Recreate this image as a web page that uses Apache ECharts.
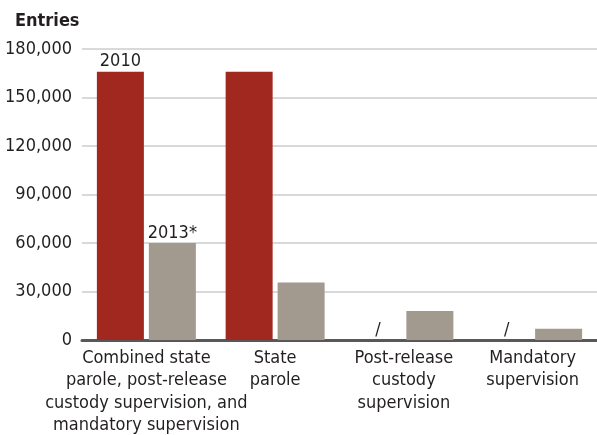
<!DOCTYPE html>
<html><head><meta charset="utf-8">
<script src="https://cdn.jsdelivr.net/npm/echarts@6/dist/echarts.min.js"></script>
<style>html,body{margin:0;padding:0;background:#fff}#c{width:597px;height:435px}</style>
</head><body><div id="c"></div>
<script>
const categories = ["Combined state\nparole, post-release\ncustody supervision, and\nmandatory supervision", "State\nparole", "Post-release\ncustody\nsupervision", "Mandatory\nsupervision"];
const values2010 = [166000, 166000, 0, 0];
const values2013 = [60000, 35500, 18000, 7000];
const labels2010 = ["2010", "", "/", "/"];
const labels2013 = ["2013*", "", "", ""];
const yTicks = { min: 0, max: 180000, interval: 30000 };

const FONT = '"DejaVu Sans Condensed","Liberation Sans Narrow",sans-serif';
const chart = echarts.init(document.getElementById('c'), null, {renderer: 'canvas'});
chart.setOption({
  animation: false,
  title: { text: 'Entries', left: 10, top: 7, textStyle: { fontFamily: FONT, fontSize: 18, fontWeight: 'bold', color: '#231f20' } },
  grid: { left: 82, right: 0, top: 49, bottom: 95, containLabel: false, outerBoundsMode: 'none' },
  xAxis: {
    type: 'category', data: categories,
    axisLine: { show: true, lineStyle: { color: '#58585a', width: 3 } },
    axisTick: { show: false },
    axisLabel: { interval: 0, margin: 7, fontFamily: FONT, fontSize: 18, lineHeight: 22.5, color: '#231f20', align: 'center' }
  },
  yAxis: {
    type: 'value', min: yTicks.min, max: yTicks.max, interval: yTicks.interval,
    axisLine: { show: false }, axisTick: { show: false },
    splitLine: { lineStyle: { color: '#d9d9d9', width: 2 } },
    axisLabel: { margin: 10, fontFamily: FONT, fontSize: 18, color: '#231f20',
      formatter: v => v.toLocaleString('en-US') }
  },
  series: [
    { name: '2010', type: 'bar', data: values2010, barWidth: 47, barGap: '10.6%', barCategoryGap: '23%',
      itemStyle: { color: '#a1281e' },
      label: { show: true, position: 'top', distance: 1, fontFamily: FONT, fontSize: 18, color: '#231f20',
        formatter: p => labels2010[p.dataIndex] } },
    { name: '2013*', type: 'bar', data: values2013, barWidth: 47,
      itemStyle: { color: '#a2998f' },
      label: { show: true, position: 'top', distance: 1, fontFamily: FONT, fontSize: 18, color: '#231f20',
        formatter: p => labels2013[p.dataIndex] } }
  ]
});
</script></body></html>
